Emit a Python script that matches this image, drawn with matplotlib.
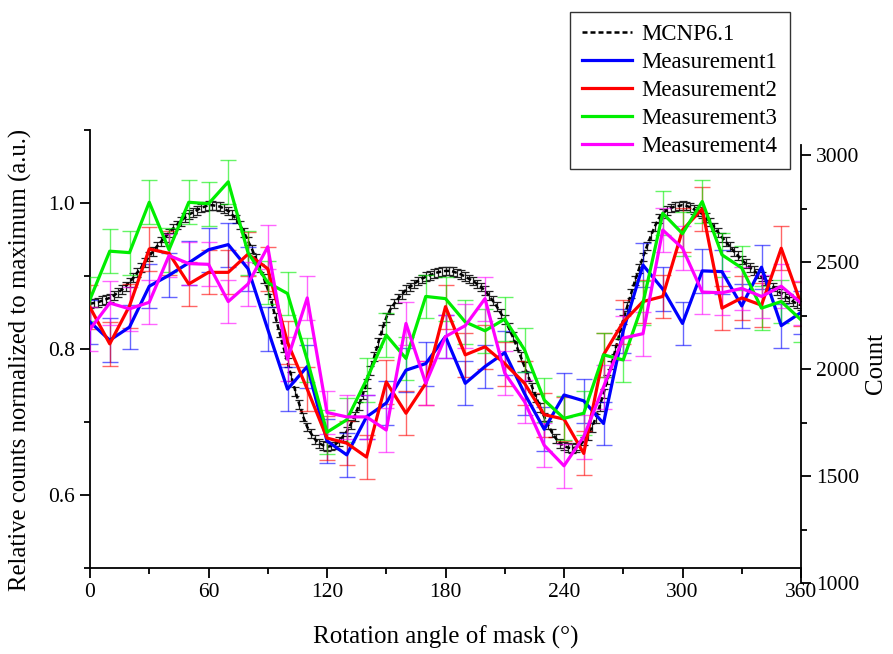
import matplotlib
matplotlib.use("Agg")
import matplotlib.pyplot as plt
from matplotlib.ticker import MultipleLocator, FormatStrFormatter

plt.rcParams['font.family'] = ['Liberation Serif', 'DejaVu Serif']

# MCNP6.1 simulation, every 2 degrees
mcnp_angle = list(range(0, 361, 2))
mcnp_value = [
    0.862, 0.863, 0.864, 0.866, 0.868, 0.870, 0.873, 0.877, 0.881, 0.886,
    0.891, 0.898, 0.905, 0.912, 0.919, 0.927, 0.934, 0.941, 0.947, 0.953,
    0.959, 0.965, 0.970, 0.975, 0.980, 0.984, 0.987, 0.990, 0.993, 0.995,
    0.997, 0.997, 0.996, 0.995, 0.992, 0.989, 0.984, 0.978, 0.970, 0.960,
    0.948, 0.937, 0.924, 0.911, 0.897, 0.882, 0.863, 0.843, 0.822, 0.802,
    0.782, 0.762, 0.742, 0.724, 0.707, 0.693, 0.684, 0.676, 0.671, 0.668,
    0.666, 0.667, 0.669, 0.673, 0.680, 0.687, 0.697, 0.708, 0.722, 0.737,
    0.753, 0.771, 0.790, 0.809, 0.827, 0.843, 0.854, 0.862, 0.869, 0.875,
    0.881, 0.885, 0.889, 0.893, 0.896, 0.899, 0.901, 0.903, 0.905, 0.906,
    0.907, 0.907, 0.906, 0.904, 0.902, 0.899, 0.896, 0.893, 0.889, 0.885,
    0.880, 0.873, 0.866, 0.858, 0.849, 0.840, 0.829, 0.817, 0.804, 0.790,
    0.776, 0.762, 0.747, 0.733, 0.720, 0.707, 0.696, 0.685, 0.677, 0.671,
    0.667, 0.665, 0.664, 0.665, 0.668, 0.674, 0.682, 0.692, 0.705, 0.721,
    0.739, 0.758, 0.778, 0.799, 0.820, 0.840, 0.858, 0.876, 0.894, 0.910,
    0.926, 0.941, 0.955, 0.968, 0.979, 0.986, 0.990, 0.993, 0.995, 0.996,
    0.997, 0.996, 0.994, 0.991, 0.988, 0.985, 0.980, 0.974, 0.967, 0.960,
    0.953, 0.947, 0.940, 0.934, 0.928, 0.922, 0.917, 0.912, 0.908, 0.903,
    0.899, 0.894, 0.889, 0.885, 0.880, 0.876, 0.872, 0.869, 0.865, 0.862,
    0.860,
]
mcnp_err = 0.006

# Measurements, every 10 degrees
angle = list(range(0, 361, 10))
meas1 = [0.837, 0.812, 0.830, 0.886, 0.901, 0.918, 0.936, 0.943, 0.910, 0.827,
         0.745, 0.776, 0.674, 0.655, 0.707, 0.726, 0.771, 0.780, 0.817, 0.753,
         0.776, 0.795, 0.739, 0.690, 0.737, 0.729, 0.698, 0.825, 0.915, 0.882,
         0.835, 0.907, 0.906, 0.859, 0.912, 0.832, 0.850]
meas2 = [0.857, 0.807, 0.859, 0.937, 0.931, 0.889, 0.905, 0.905, 0.930, 0.910,
         0.809, 0.745, 0.678, 0.671, 0.652, 0.755, 0.712, 0.753, 0.858, 0.792,
         0.803, 0.780, 0.753, 0.710, 0.704, 0.657, 0.792, 0.837, 0.865, 0.872,
         0.963, 0.992, 0.856, 0.870, 0.860, 0.938, 0.862]
meas3 = [0.868, 0.934, 0.932, 1.001, 0.936, 1.001, 0.999, 1.029, 0.932, 0.891,
         0.876, 0.785, 0.686, 0.703, 0.758, 0.819, 0.787, 0.872, 0.869, 0.837,
         0.825, 0.841, 0.799, 0.730, 0.705, 0.712, 0.792, 0.785, 0.863, 0.986,
         0.958, 1.002, 0.929, 0.911, 0.856, 0.865, 0.840]
meas4 = [0.827, 0.863, 0.855, 0.864, 0.928, 0.917, 0.916, 0.865, 0.889, 0.940,
         0.786, 0.870, 0.713, 0.707, 0.707, 0.689, 0.835, 0.753, 0.817, 0.832,
         0.869, 0.767, 0.728, 0.668, 0.640, 0.680, 0.748, 0.815, 0.821, 0.963,
         0.938, 0.878, 0.877, 0.883, 0.872, 0.886, 0.863]
meas_err = [0.03, 0.03, 0.03, 0.03]

series_names = ["Measurement1", "Measurement2", "Measurement3", "Measurement4"]
series_colors = ["#0000ff", "#ff0000", "#00ee00", "#ff00ff"]

fig = plt.figure(figsize=(8.93, 6.54), dpi=100)
W, H = 893, 654
ax = fig.add_axes([90 / W, 1 - 568 / H, 711 / W, 438 / H])
ax2 = fig.add_axes([90 / W, 1 - 583 / H, 711 / W, 438 / H])
ax2.patch.set_alpha(0)

# simulation curve with its error bars
ax.errorbar(mcnp_angle, mcnp_value, yerr=mcnp_err, fmt='none', ecolor='#222222',
            elinewidth=0.9, capsize=3, capthick=0.9, zorder=2)
ax.plot(mcnp_angle, mcnp_value, color='black', lw=1.8, ls=(0, (2.0, 1.2)),
        zorder=3, label="MCNP6.1")

for vals, err, name, col in zip([meas1, meas2, meas3, meas4], meas_err,
                                series_names, series_colors):
    ax.errorbar(angle, vals, yerr=err, fmt='none', ecolor=col, alpha=0.6,
                elinewidth=1.0, capsize=6, capthick=1.0, zorder=4)
    ax.plot(angle, vals, color=col, lw=2.3, zorder=5, label=name)

ax.set_xlim(0, 360)
ax.set_ylim(0.5, 1.1)
ax.xaxis.set_major_locator(MultipleLocator(60))
ax.xaxis.set_minor_locator(MultipleLocator(30))
ax.yaxis.set_major_locator(MultipleLocator(0.2))
ax.yaxis.set_minor_locator(MultipleLocator(0.1))
ax.yaxis.set_major_formatter(FormatStrFormatter('%.1f'))
for s in ['top', 'right']:
    ax.spines[s].set_visible(False)
for s in ['left', 'bottom']:
    ax.spines[s].set_linewidth(1.3)
ax.tick_params(which='major', direction='out', length=7, width=1.3,
               labelsize=15.5, pad=4)
ax.tick_params(which='minor', direction='out', length=4, width=1.3)
ax.set_xlabel("Rotation angle of mask (°)", fontsize=18, labelpad=17)
ax.set_ylabel("Relative counts normalized to maximum (a.u.)", fontsize=17.8)
ax.yaxis.set_label_coords(-0.082, 0.475)

# counts scale on the right
ax2.set_xlim(0, 360)
ax2.set_ylim(1000, 3047)
ax2.set_xticks([])
for s in ['top', 'left', 'bottom']:
    ax2.spines[s].set_visible(False)
ax2.spines['right'].set_linewidth(1.3)
ax2.yaxis.tick_right()
ax2.yaxis.set_label_position('right')
ax2.yaxis.set_major_locator(MultipleLocator(500))
ax2.yaxis.set_minor_locator(MultipleLocator(250))
ax2.tick_params(which='major', direction='out', length=7, width=1.3,
                labelsize=15.5, pad=4)
ax2.tick_params(which='minor', direction='out', length=4, width=1.3)
ax2.set_ylabel("Count", fontsize=18, labelpad=4)

handles, labels = ax.get_legend_handles_labels()
leg = fig.legend(handles, labels, loc='upper left',
                 bbox_to_anchor=(570 / W, 1 - 12 / H), fontsize=16.5,
                 frameon=True, fancybox=False, edgecolor='black',
                 handlelength=2.17, handletextpad=0.44, labelspacing=0.30,
                 borderpad=0.52, borderaxespad=0)
leg.get_frame().set_linewidth(1.0)

fig.savefig("out.png", dpi=100)
